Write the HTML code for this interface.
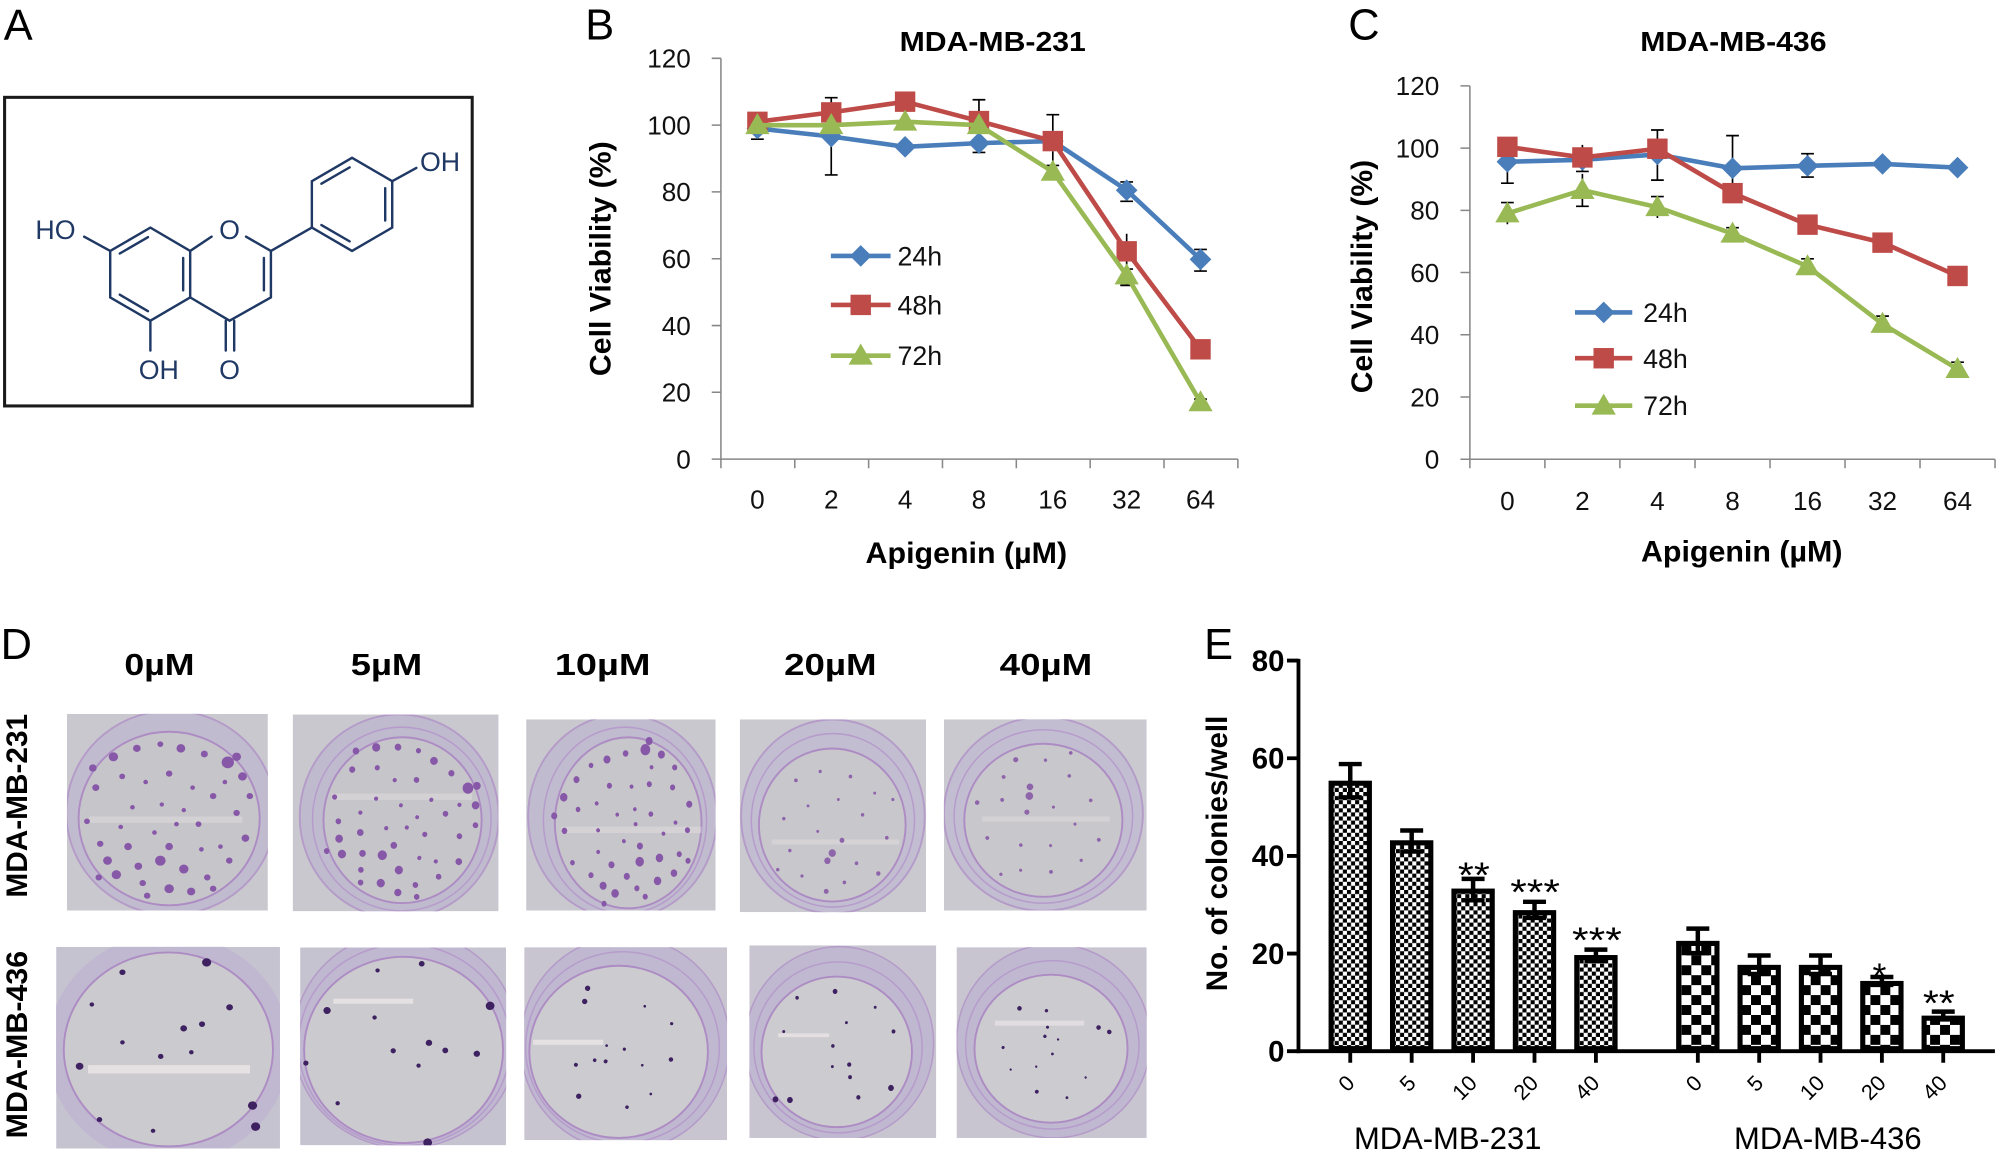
<!DOCTYPE html>
<html><head><meta charset="utf-8"><style>html,body{margin:0;padding:0;background:#fff}svg{display:block}</style></head>
<body>
<svg xmlns="http://www.w3.org/2000/svg" width="2000" height="1152" viewBox="0 0 1568 903" preserveAspectRatio="none" font-family="'Liberation Sans', Arial, sans-serif">
<defs>
<path id="dm" d="M0,-8.5L8.5,0L0,8.5L-8.5,0Z" fill="#4a7ebb"/>
<rect id="sq" x="-8" y="-8" width="16" height="16" fill="#be4b48"/>
<path id="tr" d="M0,-9.5L9.5,7L-9.5,7Z" fill="#98b954"/>
<pattern id="pf" width="6.4" height="6.4" patternUnits="userSpaceOnUse"><rect width="6.4" height="6.4" fill="#fff"/><rect width="3.2" height="3.2" fill="#000"/><rect x="3.2" y="3.2" width="3.2" height="3.2" fill="#000"/></pattern>
<pattern id="pc" width="15.6" height="15.6" patternUnits="userSpaceOnUse"><rect width="15.6" height="15.6" fill="#fff"/><rect width="7.8" height="7.8" fill="#000"/><rect x="7.8" y="7.8" width="7.8" height="7.8" fill="#000"/></pattern>
<g id="dA" fill="#8757a8">
<circle cx="-38" cy="-44" r="3.2"/><circle cx="-22" cy="-50" r="2.6"/><circle cx="-6" cy="-53" r="2"/><circle cx="8" cy="-50" r="3"/><circle cx="24" cy="-46" r="2.4"/><circle cx="40" cy="-40" r="4.2"/><circle cx="50" cy="-30" r="3"/><circle cx="46" cy="-44" r="3"/><circle cx="-50" cy="-22" r="2.4"/><circle cx="-56" cy="2" r="2"/><circle cx="-47" cy="18" r="2.2"/><circle cx="-32" cy="-30" r="2"/><circle cx="-16" cy="-26" r="1.6"/><circle cx="0" cy="-32" r="2.2"/><circle cx="16" cy="-22" r="1.6"/><circle cx="30" cy="-16" r="2.2"/><circle cx="46" cy="-4" r="2.2"/><circle cx="52" cy="14" r="2.6"/><circle cx="41" cy="30" r="2.2"/><circle cx="-36" cy="40" r="3.2"/><circle cx="-21" cy="34" r="2.6"/><circle cx="-6" cy="30" r="3.6"/><circle cx="10" cy="36" r="3.2"/><circle cx="26" cy="42" r="2.2"/><circle cx="-28" cy="20" r="2.6"/><circle cx="-10" cy="10" r="1.6"/><circle cx="5" cy="4" r="1.6"/><circle cx="20" cy="4" r="2"/><circle cx="-42" cy="30" r="3"/><circle cx="0" cy="50" r="3.2"/><circle cx="-15" cy="55" r="2.2"/><circle cx="15" cy="52" r="2.8"/><circle cx="30" cy="50" r="2.2"/><circle cx="-48" cy="42" r="2.2"/><circle cx="-5" cy="-10" r="1.5"/><circle cx="10" cy="-6" r="1.5"/><circle cx="-25" cy="-8" r="1.6"/><circle cx="35" cy="20" r="1.6"/><circle cx="55" cy="-16" r="2.2"/><circle cx="-52" cy="-36" r="2.6"/><circle cx="0" cy="20" r="2.6"/><circle cx="-18" cy="46" r="2.2"/><circle cx="22" cy="22" r="1.6"/><circle cx="-33" cy="6" r="1.6"/><circle cx="38" cy="-26" r="1.6"/>
</g>
<g id="dB" fill="#8e64ab">
<circle cx="-30" cy="-35" r="1.5"/><circle cx="-10" cy="-42" r="1.3"/><circle cx="15" cy="-38" r="1.5"/><circle cx="35" cy="-25" r="1.2"/><circle cx="-40" cy="-5" r="1.4"/><circle cx="-20" cy="-15" r="1.2"/><circle cx="5" cy="-20" r="1.2"/><circle cx="25" cy="-8" r="1.4"/><circle cx="45" cy="10" r="1.5"/><circle cx="-35" cy="20" r="1.4"/><circle cx="-12" cy="5" r="1.2"/><circle cx="8" cy="12" r="2"/><circle cx="0" cy="22" r="3"/><circle cx="-4" cy="28" r="2.6"/><circle cx="20" cy="30" r="1.5"/><circle cx="-25" cy="40" r="1.3"/><circle cx="10" cy="45" r="1.5"/><circle cx="38" cy="38" r="1.8"/><circle cx="-45" cy="35" r="1.4"/><circle cx="50" cy="-20" r="1.3"/><circle cx="-5" cy="52" r="2"/>
</g>
<g id="dC" fill="#3d2160">
<circle cx="-30" cy="-55" r="2"/><circle cx="25" cy="-62" r="3"/><circle cx="40" cy="-30" r="2.2"/><circle cx="-50" cy="-32" r="1.5"/><circle cx="-58" cy="12" r="2.5"/><circle cx="-30" cy="-5" r="1.5"/><circle cx="10" cy="-15" r="2.2"/><circle cx="22" cy="-18" r="2"/><circle cx="-5" cy="5" r="1.8"/><circle cx="55" cy="40" r="3"/><circle cx="57" cy="55" r="3"/><circle cx="-45" cy="50" r="1.8"/><circle cx="-10" cy="58" r="1.5"/><circle cx="15" cy="2" r="1.5"/>
</g>
<clipPath id="c11"><rect x="52.5" y="559.6" width="157.5" height="154.1"/></clipPath>
<clipPath id="c12"><rect x="229.5" y="560.1" width="161.3" height="154.2"/></clipPath>
<clipPath id="c13"><rect x="412.5" y="563.9" width="148.5" height="149.8"/></clipPath>
<clipPath id="c14"><rect x="580" y="563.9" width="146" height="151.1"/></clipPath>
<clipPath id="c15"><rect x="740" y="563.9" width="159" height="149.8"/></clipPath>
<clipPath id="c21"><rect x="44" y="742.2" width="175.5" height="158.1"/></clipPath>
<clipPath id="c22"><rect x="235.3" y="742.7" width="161.5" height="155"/></clipPath>
<clipPath id="c23"><rect x="411" y="742.5" width="159" height="151.2"/></clipPath>
<clipPath id="c24"><rect x="587.5" y="741" width="146.5" height="151"/></clipPath>
<clipPath id="c25"><rect x="750" y="742.5" width="149" height="149.5"/></clipPath>
</defs>

<!-- Panel letters -->
<g font-size="34" fill="#000">
<text x="3" y="31.3">A</text>
<text x="458.8" y="31">B</text>
<text x="1057" y="31">C</text>
<text x="0.5" y="516.4">D</text>
<text x="944" y="516.4">E</text>
</g>

<!-- Panel A -->
<rect x="3.6" y="76.3" width="366.6" height="241.9" fill="none" stroke="#1a1a1a" stroke-width="2.4"/>
<g stroke="#1f3864" stroke-width="1.9" fill="none" stroke-linecap="round">
<path d="M86.4,196.7L117.9,178.4L149.1,196.7L149.1,233.1L117.9,251.4L86.4,233.1Z"/>
<path d="M93.9,198.7L116,185.9M143.6,202.2L143.6,227.6M116,243.9L93.9,231"/>
<path d="M86.4,196.7L66,185.5"/>
<path d="M149.1,196.7L165.9,185.5M192.9,185.5L212.4,196.7L212.4,233.1L180,251.4L149.1,233.1"/>
<path d="M206.9,202.2L206.9,227.6"/>
<path d="M177,251.4L177,274.8M183.6,251.4L183.6,274.8"/>
<path d="M117.9,251.4L117.9,274.8"/>
<path d="M212.4,196.7L244.5,178.4"/>
<path d="M244.5,178.4L244.5,142L276,123.7L307.5,142L307.5,178.4L276,196.7Z"/>
<path d="M252,144L274.1,131.2M302,147.5L302,172.9M274.1,189.2L252,176.4"/>
<path d="M307.5,142L326.4,131.6"/>
</g>
<g fill="#1f3864" font-size="21" text-anchor="middle">
<text x="43.5" y="187.4">HO</text>
<text x="180" y="187.4">O</text>
<text x="124.5" y="296.9">OH</text>
<text x="180" y="296.9">O</text>
<text x="345" y="134">OH</text>
</g>

<!-- Panel B -->
<text x="778.3" y="39.8" font-size="22" font-weight="bold" text-anchor="middle" textLength="146" lengthAdjust="spacingAndGlyphs">MDA-MB-231</text>
<g stroke="#878787" stroke-width="1.2">
<line x1="565.2" y1="45.7" x2="565.2" y2="360.5"/>
<line x1="564.6" y1="359.9" x2="970.5" y2="359.9"/>
<path d="M558,45.7H565.2M558,98.1H565.2M558,150.4H565.2M558,202.8H565.2M558,255.2H565.2M558,307.5H565.2M558,359.9H565.2"/>
<path d="M623.1,359.9V367M681,359.9V367M738.9,359.9V367M796.8,359.9V367M854.7,359.9V367M912.6,359.9V367M970.5,359.9V367M565.2,359.9V367"/>
</g>
<g font-size="20.5" text-anchor="end" fill="#111">
<text x="541.6" y="53">120</text><text x="541.6" y="105.4">100</text><text x="541.6" y="157.7">80</text><text x="541.6" y="210.1">60</text><text x="541.6" y="262.5">40</text><text x="541.6" y="314.8">20</text><text x="541.6" y="367.2">0</text>
</g>
<g font-size="20.5" text-anchor="middle" fill="#111">
<text x="593.8" y="398.4">0</text><text x="651.7" y="398.4">2</text><text x="709.6" y="398.4">4</text><text x="767.5" y="398.4">8</text><text x="825.4" y="398.4">16</text><text x="883.3" y="398.4">32</text><text x="941.2" y="398.4">64</text>
</g>
<text x="757.6" y="441.5" font-size="23" font-weight="bold" text-anchor="middle" textLength="158" lengthAdjust="spacingAndGlyphs">Apigenin (µM)</text>
<text transform="translate(478.5,202.8) rotate(-90)" font-size="23" font-weight="bold" text-anchor="middle" textLength="184" lengthAdjust="spacingAndGlyphs">Cell Viability (%)</text>
<g stroke="#000" stroke-width="1.3" fill="none">
<path d="M593.8,109.1V91.5M588.8,109.1H598.8M588.8,91.5H598.8"/>
<path d="M651.7,137.1V76.6M646.7,137.1H656.7M646.7,76.6H656.7"/>
<path d="M767.5,119.5V78.2M762.5,119.5H772.5M762.5,78.2H772.5"/>
<path d="M825.4,129.7V89.9M820.4,129.7H830.4M820.4,89.9H830.4"/>
<path d="M883.3,157.8V142.6M878.3,157.8H888.3M878.3,142.6H888.3M883.3,210.9V183.2M878.3,210.9H888.3M883.3,223.7V210M878.3,223.7H888.3"/>
<path d="M941.2,212.5V195.5M936.2,212.5H946.2M936.2,195.5H946.2M941.2,312.8V318M936.2,312.8H946.2M941.2,267.5V280M936.2,280H946.2"/>
</g>
<g fill="none" stroke-width="3.6" stroke-linejoin="round">
<polyline stroke="#4a7ebb" points="593.8,100.7 651.7,107 709.6,115.1 767.5,112.2 825.4,110.6 883.3,149.1 941.2,203.3"/>
</g>
<use href="#dm" x="593.8" y="100.7"/><use href="#dm" x="651.7" y="107"/><use href="#dm" x="709.6" y="115.1"/><use href="#dm" x="767.5" y="112.2"/><use href="#dm" x="825.4" y="110.6"/><use href="#dm" x="883.3" y="149.1"/><use href="#dm" x="941.2" y="203.3"/>
<polyline fill="none" stroke="#be4b48" stroke-width="3.6" stroke-linejoin="round" points="593.8,95.5 651.7,88.1 709.6,79.7 767.5,94.9 825.4,110.6 883.3,197 941.2,273.8"/>
<use href="#sq" x="593.8" y="95.5"/><use href="#sq" x="651.7" y="88.1"/><use href="#sq" x="709.6" y="79.7"/><use href="#sq" x="767.5" y="94.9"/><use href="#sq" x="825.4" y="110.6"/><use href="#sq" x="883.3" y="197"/><use href="#sq" x="941.2" y="273.8"/>
<polyline fill="none" stroke="#98b954" stroke-width="3.6" stroke-linejoin="round" points="593.8,98.1 651.7,98.1 709.6,95.4 767.5,98.1 825.4,134.7 883.3,215.9 941.2,315.4"/>
<use href="#tr" x="593.8" y="98.1"/><use href="#tr" x="651.7" y="98.1"/><use href="#tr" x="709.6" y="95.4"/><use href="#tr" x="767.5" y="98.1"/><use href="#tr" x="825.4" y="134.7"/><use href="#tr" x="883.3" y="215.9"/><use href="#tr" x="941.2" y="315.4"/>
<!-- legend B -->
<line x1="651.4" y1="200.6" x2="698.2" y2="200.6" stroke="#4a7ebb" stroke-width="3.6"/><use href="#dm" x="674.8" y="200.6"/>
<line x1="651.4" y1="239" x2="698.2" y2="239" stroke="#be4b48" stroke-width="3.6"/><use href="#sq" x="674.8" y="239"/>
<line x1="651.4" y1="278.8" x2="698.2" y2="278.8" stroke="#98b954" stroke-width="3.6"/><use href="#tr" x="674.8" y="278.8"/>
<g font-size="21" fill="#111"><text x="703.6" y="208.1">24h</text><text x="703.6" y="246.5">48h</text><text x="703.6" y="286.3">72h</text></g>

<!-- Panel C -->
<text x="1359" y="39.8" font-size="22" font-weight="bold" text-anchor="middle" textLength="146" lengthAdjust="spacingAndGlyphs">MDA-MB-436</text>
<g stroke="#878787" stroke-width="1.2">
<line x1="1152.4" y1="67.3" x2="1152.4" y2="360.6"/>
<line x1="1151.8" y1="360" x2="1564.1" y2="360"/>
<path d="M1145,67.3H1152.4M1145,116.1H1152.4M1145,164.9H1152.4M1145,213.6H1152.4M1145,262.4H1152.4M1145,311.2H1152.4M1145,360H1152.4"/>
<path d="M1152.4,360V367M1211.2,360V367M1270,360V367M1328.9,360V367M1387.7,360V367M1446.5,360V367M1505.3,360V367M1564.1,360V367"/>
</g>
<g font-size="20.5" text-anchor="end" fill="#111">
<text x="1128.4" y="74.6">120</text><text x="1128.4" y="123.4">100</text><text x="1128.4" y="172.2">80</text><text x="1128.4" y="220.9">60</text><text x="1128.4" y="269.7">40</text><text x="1128.4" y="318.5">20</text><text x="1128.4" y="367.3">0</text>
</g>
<g font-size="20.5" text-anchor="middle" fill="#111">
<text x="1181.8" y="399.9">0</text><text x="1240.6" y="399.9">2</text><text x="1299.4" y="399.9">4</text><text x="1358.3" y="399.9">8</text><text x="1417.1" y="399.9">16</text><text x="1475.9" y="399.9">32</text><text x="1534.7" y="399.9">64</text>
</g>
<text x="1365.5" y="440.3" font-size="23" font-weight="bold" text-anchor="middle" textLength="158" lengthAdjust="spacingAndGlyphs">Apigenin (µM)</text>
<text transform="translate(1075.5,216.8) rotate(-90)" font-size="23" font-weight="bold" text-anchor="middle" textLength="183" lengthAdjust="spacingAndGlyphs">Cell Viability (%)</text>
<g stroke="#000" stroke-width="1.3" fill="none">
<path d="M1181.8,143.6V111.2M1176.8,143.6H1186.8M1181.8,175.8V158.8M1176.8,158.8H1186.8"/>
<path d="M1240.6,134.4V113.6M1235.6,134.4H1245.6M1240.6,161.7V136.3M1235.6,161.7H1245.6"/>
<path d="M1299.4,141.2V101.9M1294.4,141.2H1304.4M1294.4,101.9H1304.4M1299.4,170.9V154.1M1294.4,154.1H1304.4"/>
<path d="M1358.3,157.5V106.3M1353.3,106.3H1363.3M1358.3,187.8V178.5M1353.3,178.5H1363.3"/>
<path d="M1417.1,138.8V120.5M1412.1,138.8H1422.1M1412.1,120.5H1422.1M1417.1,214.6V202.9M1412.1,202.9H1422.1"/>
<path d="M1475.9,260V247.8M1470.9,247.8H1480.9"/>
<path d="M1534.7,294.6V283.9M1529.7,283.9H1539.7"/>
</g>
<polyline fill="none" stroke="#4a7ebb" stroke-width="3.6" stroke-linejoin="round" points="1181.8,126.8 1240.6,125.3 1299.4,121 1358.3,131.9 1417.1,130 1475.9,128.5 1534.7,131.4"/>
<use href="#dm" x="1181.8" y="126.8"/><use href="#dm" x="1240.6" y="125.3"/><use href="#dm" x="1299.4" y="121"/><use href="#dm" x="1358.3" y="131.9"/><use href="#dm" x="1417.1" y="130"/><use href="#dm" x="1475.9" y="128.5"/><use href="#dm" x="1534.7" y="131.4"/>
<polyline fill="none" stroke="#be4b48" stroke-width="3.6" stroke-linejoin="round" points="1181.8,115.1 1240.6,123.4 1299.4,116.6 1358.3,151.4 1417.1,176.1 1475.9,190.2 1534.7,216.3"/>
<use href="#sq" x="1181.8" y="115.1"/><use href="#sq" x="1240.6" y="123.4"/><use href="#sq" x="1299.4" y="116.6"/><use href="#sq" x="1358.3" y="151.4"/><use href="#sq" x="1417.1" y="176.1"/><use href="#sq" x="1475.9" y="190.2"/><use href="#sq" x="1534.7" y="216.3"/>
<polyline fill="none" stroke="#98b954" stroke-width="3.6" stroke-linejoin="round" points="1181.8,167.3 1240.6,149 1299.4,162.4 1358.3,183.2 1417.1,208.8 1475.9,253.9 1534.7,289.3"/>
<use href="#tr" x="1181.8" y="167.3"/><use href="#tr" x="1240.6" y="149"/><use href="#tr" x="1299.4" y="162.4"/><use href="#tr" x="1358.3" y="183.2"/><use href="#tr" x="1417.1" y="208.8"/><use href="#tr" x="1475.9" y="253.9"/><use href="#tr" x="1534.7" y="289.3"/>
<!-- legend C -->
<line x1="1234.8" y1="244.9" x2="1279.7" y2="244.9" stroke="#4a7ebb" stroke-width="3.6"/><use href="#dm" x="1257.3" y="244.9"/>
<line x1="1234.8" y1="280.8" x2="1279.7" y2="280.8" stroke="#be4b48" stroke-width="3.6"/><use href="#sq" x="1257.3" y="280.8"/>
<line x1="1234.8" y1="318" x2="1279.7" y2="318" stroke="#98b954" stroke-width="3.6"/><use href="#tr" x="1257.3" y="318"/>
<g font-size="21" fill="#111"><text x="1288.2" y="252.4">24h</text><text x="1288.2" y="288.3">48h</text><text x="1288.2" y="325.5">72h</text></g>

<!-- Panel D -->
<g font-size="24" font-weight="bold" text-anchor="middle">
<text x="125" y="529" textLength="55" lengthAdjust="spacingAndGlyphs">0µM</text>
<text x="303" y="529" textLength="56" lengthAdjust="spacingAndGlyphs">5µM</text>
<text x="472.5" y="529" textLength="75" lengthAdjust="spacingAndGlyphs">10µM</text>
<text x="651" y="529" textLength="72.5" lengthAdjust="spacingAndGlyphs">20µM</text>
<text x="820" y="529" textLength="72.5" lengthAdjust="spacingAndGlyphs">40µM</text>
</g>
<text transform="translate(21,631.6) rotate(-90)" font-size="23" font-weight="bold" text-anchor="middle" textLength="144" lengthAdjust="spacingAndGlyphs">MDA-MB-231</text>
<text transform="translate(21,818.8) rotate(-90)" font-size="23" font-weight="bold" text-anchor="middle" textLength="147" lengthAdjust="spacingAndGlyphs">MDA-MB-436</text>

<!-- photos row 1 -->
<g clip-path="url(#c11)">
<rect x="52.5" y="559.6" width="157.5" height="154.1" fill="#c9c8cf"/>
<ellipse cx="134" cy="637" rx="82" ry="80" fill="#c1bbcf" stroke="#b49bc8" stroke-width="1.5"/>
<ellipse cx="132.6" cy="641.6" rx="71" ry="68" fill="#c6c5ca" stroke="#ad8cc4" stroke-width="1.5"/>
<rect x="70" y="640" width="120" height="5" fill="#e2dde0" opacity="0.5"/>
<use href="#dA" transform="translate(132.6,641.6) scale(1.15,1.1)"/>
</g>
<g clip-path="url(#c12)">
<rect x="229.5" y="560.1" width="161.3" height="154.2" fill="#c9c8cf"/>
<ellipse cx="313" cy="640" rx="78" ry="80" fill="#c0bacf" stroke="#b49bc8" stroke-width="1.5"/>
<ellipse cx="315" cy="642" rx="70" ry="72" fill="none" stroke="#b69ccb" stroke-width="1.2"/>
<ellipse cx="315.6" cy="642.9" rx="62" ry="65" fill="#c6c5ca" stroke="#ad8cc4" stroke-width="1.5"/>
<rect x="260" y="622" width="110" height="5" fill="#e2dde0" opacity="0.5"/>
<use href="#dA" transform="translate(315.6,642.9) scale(1.0,1.05) rotate(20)"/>
</g>
<g clip-path="url(#c13)">
<rect x="412.5" y="563.9" width="148.5" height="149.8" fill="#c9c8cf"/>
<ellipse cx="488" cy="640" rx="74" ry="80" fill="#c1bbcf" stroke="#b49bc8" stroke-width="1.5"/>
<ellipse cx="490" cy="643" rx="64" ry="73" fill="none" stroke="#b69ccb" stroke-width="1.2"/>
<ellipse cx="492.5" cy="645" rx="57.5" ry="67" fill="#c7c6ca" stroke="#ad8cc4" stroke-width="1.5"/>
<rect x="440" y="648" width="110" height="5" fill="#e2dde0" opacity="0.5"/>
<use href="#dA" transform="translate(492.5,645) scale(0.92,1.05) rotate(-30)"/>
</g>
<g clip-path="url(#c14)">
<rect x="580" y="563.9" width="146" height="151.1" fill="#cac9d0"/>
<ellipse cx="653" cy="640" rx="72" ry="76" fill="#c3bdd2" stroke="#b49bc8" stroke-width="1.5"/>
<ellipse cx="653" cy="643" rx="64" ry="68" fill="none" stroke="#b69ccb" stroke-width="1.2"/>
<ellipse cx="652.5" cy="646.7" rx="57.5" ry="60" fill="#c8c7cb" stroke="#ad8cc4" stroke-width="1.5"/>
<rect x="605" y="658" width="100" height="4" fill="#e2dde0" opacity="0.5"/>
<use href="#dB" transform="translate(652.5,646.7) scale(0.95,1)"/>
</g>
<g clip-path="url(#c15)">
<rect x="740" y="563.9" width="159" height="149.8" fill="#cac9d0"/>
<ellipse cx="818" cy="638" rx="78" ry="76" fill="#c3bdd2" stroke="#b49bc8" stroke-width="1.5"/>
<ellipse cx="818" cy="640" rx="70" ry="68" fill="none" stroke="#b69ccb" stroke-width="1.2"/>
<ellipse cx="818" cy="643" rx="62" ry="60" fill="#c8c7cb" stroke="#ad8cc4" stroke-width="1.5"/>
<rect x="770" y="640" width="100" height="4" fill="#e2dde0" opacity="0.5"/>
<use href="#dB" transform="translate(818,643) scale(1,1) rotate(150)"/>
</g>

<!-- photos row 2 -->
<g clip-path="url(#c21)">
<rect x="44" y="742.2" width="175.5" height="158.1" fill="#c6c3d0"/>
<ellipse cx="132" cy="822" rx="95" ry="90" fill="#c0b8d1"/>
<ellipse cx="132" cy="822.6" rx="82" ry="76" fill="#cbcace" stroke="#ad8cc4" stroke-width="1.5"/>
<rect x="69" y="834.9" width="127" height="6.5" fill="#eee8ea" opacity="0.75"/>
<use href="#dC" transform="translate(132,822.6) scale(1.2,1.1)"/>
</g>
<g clip-path="url(#c22)">
<rect x="235.3" y="742.7" width="161.5" height="155" fill="#c6c3d0"/>
<ellipse cx="318" cy="815" rx="88" ry="85" fill="#c0b8d1" stroke="#b49bc8" stroke-width="1.2"/>
<ellipse cx="317" cy="819" rx="83" ry="79" fill="none" stroke="#b69ccb" stroke-width="1.2"/>
<ellipse cx="316.4" cy="823" rx="78" ry="73" fill="#cbcace" stroke="#ad8cc4" stroke-width="1.5"/>
<rect x="261.3" y="782.8" width="62.6" height="4" fill="#eee8ea" opacity="0.75"/>
<use href="#dC" transform="translate(316.4,823) scale(1.15,1.1) rotate(40)"/>
</g>
<g clip-path="url(#c23)">
<rect x="411" y="742.5" width="159" height="151.2" fill="#c8c5d1"/>
<ellipse cx="490" cy="818" rx="82" ry="84" fill="#c0b8d1" stroke="#b49bc8" stroke-width="1.2"/>
<ellipse cx="488" cy="821" rx="76" ry="75" fill="none" stroke="#b69ccb" stroke-width="1.2"/>
<ellipse cx="485" cy="824.5" rx="70" ry="67.5" fill="#cccbcf" stroke="#ad8cc4" stroke-width="1.5"/>
<rect x="418" y="815" width="55" height="4" fill="#eee8ea" opacity="0.75"/>
<use href="#dC" transform="translate(485,824.5) scale(0.7,0.7) rotate(200)"/>
</g>
<g clip-path="url(#c24)">
<rect x="587.5" y="741" width="146.5" height="151" fill="#c8c5d1"/>
<ellipse cx="658" cy="818" rx="74" ry="76" fill="#c0b8d1" stroke="#b49bc8" stroke-width="1.2"/>
<ellipse cx="657" cy="821" rx="66" ry="67" fill="none" stroke="#b69ccb" stroke-width="1.2"/>
<ellipse cx="656" cy="824.5" rx="59" ry="59" fill="#cccbcf" stroke="#ad8cc4" stroke-width="1.5"/>
<rect x="610" y="810" width="40" height="3" fill="#eee8ea" opacity="0.7"/>
<use href="#dC" transform="translate(656,824.5) scale(0.75,0.8) rotate(100)"/>
</g>
<g clip-path="url(#c25)">
<rect x="750" y="742.5" width="149" height="149.5" fill="#c8c5d1"/>
<ellipse cx="826" cy="816" rx="76" ry="76" fill="#c0b8d1" stroke="#b49bc8" stroke-width="1.2"/>
<ellipse cx="825" cy="819" rx="68" ry="66" fill="none" stroke="#b69ccb" stroke-width="1.2"/>
<ellipse cx="824" cy="822" rx="60" ry="58" fill="#cccbcf" stroke="#ad8cc4" stroke-width="1.5"/>
<rect x="780" y="800" width="70" height="4" fill="#eee8ea" opacity="0.6"/>
<use href="#dC" transform="translate(824,822) scale(0.6,0.6) rotate(300)"/>
</g>

<!-- Panel E -->
<text transform="translate(962,669) rotate(-90)" font-size="23" font-weight="bold" text-anchor="middle" textLength="216" lengthAdjust="spacingAndGlyphs">No. of colonies/well</text>
<g font-size="23" font-weight="bold" text-anchor="end">
<text x="1007" y="526">80</text><text x="1007" y="602.5">60</text><text x="1007" y="679">40</text><text x="1007" y="755.5">20</text><text x="1007" y="832">0</text>
</g>
<!-- bars -->
<g stroke="#000" stroke-width="4">
<rect x="1043.6" y="613.95" width="30" height="208" fill="url(#pf)"/>
<rect x="1091.75" y="660.65" width="30" height="161.35" fill="url(#pf)"/>
<rect x="1139.9" y="698.5" width="30" height="123.5" fill="url(#pf)"/>
<rect x="1188.05" y="715.4" width="30" height="106.6" fill="url(#pf)"/>
<rect x="1236.2" y="750.6" width="30" height="71.4" fill="url(#pf)"/>
<rect x="1316.1" y="739.5" width="30" height="82.5" fill="url(#pc)"/>
<rect x="1364.2" y="758.3" width="30" height="63.7" fill="url(#pc)"/>
<rect x="1412.3" y="758.3" width="30" height="63.7" fill="url(#pc)"/>
<rect x="1460.4" y="770.9" width="30" height="51.1" fill="url(#pc)"/>
<rect x="1508.5" y="798.1" width="30" height="23.9" fill="url(#pc)"/>
</g>
<g stroke="#000" stroke-width="3.5" fill="none">
<path d="M1058.6,598.9V625M1049.6,598.9H1067.6M1049.6,625H1067.6"/>
<path d="M1106.75,651V667.5M1097.75,651H1115.75M1097.75,667.5H1115.75"/>
<path d="M1154.9,688.9V705.7M1145.9,688.9H1163.9M1145.9,705.7H1163.9"/>
<path d="M1203.05,706.9V719.5M1194.05,706.9H1212.05M1194.05,719.5H1212.05"/>
<path d="M1251.2,744.4V753.2M1242.2,744.4H1260.2M1242.2,753.2H1260.2"/>
<path d="M1331.1,727.9V747.1M1322.1,727.9H1340.1M1322.1,747.1H1340.1"/>
<path d="M1379.2,749V763.5M1370.2,749H1388.2M1370.2,763.5H1388.2"/>
<path d="M1427.3,749V763.5M1418.3,749H1436.3M1418.3,763.5H1436.3"/>
<path d="M1475.4,765.8V772M1466.4,765.8H1484.4M1466.4,772H1484.4"/>
<path d="M1523.5,793V799.1M1514.5,793H1532.5M1514.5,799.1H1532.5"/>
</g>
<!-- axes E -->
<g stroke="#000" stroke-width="3">
<line x1="1018" y1="516.5" x2="1018" y2="825.5"/>
<line x1="1016.5" y1="824" x2="1564" y2="824"/>
<path d="M1009,517.8H1018M1009,594.35H1018M1009,670.9H1018M1009,747.45H1018M1009,824H1018"/>
<path d="M1058.6,824V833M1106.75,824V833M1154.9,824V833M1203.05,824V833M1251.2,824V833M1331.1,824V833M1379.2,824V833M1427.3,824V833M1475.4,824V833M1523.5,824V833"/>
</g>
<!-- stars -->
<g font-size="28" text-anchor="middle">
<text x="1155.5" y="695.8" textLength="25" lengthAdjust="spacingAndGlyphs">**</text>
<text x="1203.5" y="709.1" textLength="39" lengthAdjust="spacingAndGlyphs">***</text>
<text x="1252" y="746.6" textLength="39" lengthAdjust="spacingAndGlyphs">***</text>
<text x="1473.5" y="774.7">*</text>
<text x="1520" y="796.1" textLength="25" lengthAdjust="spacingAndGlyphs">**</text>
</g>
<!-- rotated x labels -->
<g font-size="17" text-anchor="end">
<text transform="translate(1063,850) rotate(-45)">0</text>
<text transform="translate(1111,850) rotate(-45)">5</text>
<text transform="translate(1159,850) rotate(-45)">10</text>
<text transform="translate(1207,850) rotate(-45)">20</text>
<text transform="translate(1255,850) rotate(-45)">40</text>
<text transform="translate(1335.5,850) rotate(-45)">0</text>
<text transform="translate(1383.5,850) rotate(-45)">5</text>
<text transform="translate(1431.5,850) rotate(-45)">10</text>
<text transform="translate(1479.5,850) rotate(-45)">20</text>
<text transform="translate(1527.5,850) rotate(-45)">40</text>
</g>
<g font-size="25" text-anchor="middle">
<text x="1135" y="900.5" textLength="147" lengthAdjust="spacingAndGlyphs">MDA-MB-231</text>
<text x="1433" y="900.5" textLength="147" lengthAdjust="spacingAndGlyphs">MDA-MB-436</text>
</g>
</svg>
</body></html>
